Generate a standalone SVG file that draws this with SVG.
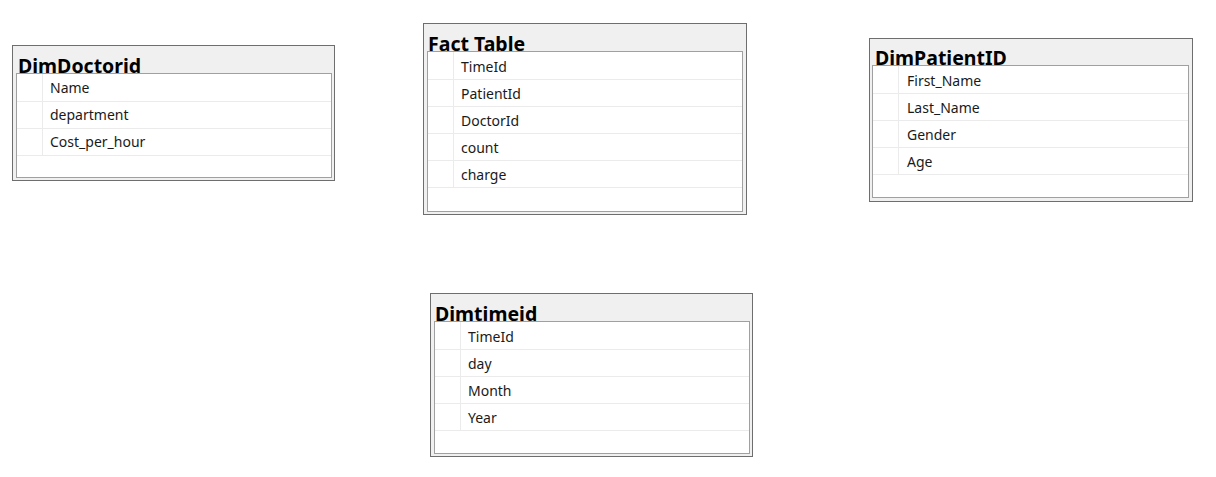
<svg xmlns="http://www.w3.org/2000/svg" width="1216" height="477" viewBox="0 0 1216 477">
<style>
.outer{fill:#f0f0f0;stroke:#6e6e6e;stroke-width:1}
.inner{fill:#ffffff;stroke:#a0a0a0;stroke-width:1}
.row{stroke:#ebebeb;stroke-width:1}
.title{font-family:"Noto Sans","Open Sans",sans-serif;font-weight:bold;font-size:19.5px;fill:#000}
.item{font-family:"Noto Sans","Open Sans",sans-serif;font-size:14px;fill:#1a1a1a}
</style>
<rect width="1216" height="477" fill="#ffffff"/>
<g id="DimDoctorid">
<rect class="outer" x="12.5" y="45.5" width="322" height="135"/>
<text class="title" x="18" y="73">DimDoctorid</text>
<rect class="inner" x="16.5" y="73.5" width="315" height="104"/>
<line class="row" x1="42.5" y1="74" x2="42.5" y2="155"/>
<line class="row" x1="17" y1="101.5" x2="331" y2="101.5"/>
<line class="row" x1="17" y1="128.5" x2="331" y2="128.5"/>
<line class="row" x1="17" y1="155.5" x2="331" y2="155.5"/>
<text class="item" x="50" y="92.5">Name</text>
<text class="item" x="50" y="119.5">department</text>
<text class="item" x="50" y="146.5">Cost_per_hour</text>
</g>
<g id="FactTable">
<rect class="outer" x="423.5" y="23.5" width="323" height="191"/>
<text class="title" x="428" y="51">Fact Table</text>
<rect class="inner" x="427.5" y="51.5" width="315" height="160"/>
<line class="row" x1="453.5" y1="52" x2="453.5" y2="187"/>
<line class="row" x1="428" y1="79.5" x2="742" y2="79.5"/>
<line class="row" x1="428" y1="106.5" x2="742" y2="106.5"/>
<line class="row" x1="428" y1="133.5" x2="742" y2="133.5"/>
<line class="row" x1="428" y1="160.5" x2="742" y2="160.5"/>
<line class="row" x1="428" y1="187.5" x2="742" y2="187.5"/>
<text class="item" x="461" y="71.5">TimeId</text>
<text class="item" x="461" y="98.5">PatientId</text>
<text class="item" x="461" y="125.5">DoctorId</text>
<text class="item" x="461" y="152.5">count</text>
<text class="item" x="461" y="179.5">charge</text>
</g>
<g id="DimPatientID">
<rect class="outer" x="869.5" y="38.5" width="323" height="163"/>
<text class="title" x="875" y="65">DimPatientID</text>
<rect class="inner" x="872.5" y="65.5" width="316" height="132"/>
<line class="row" x1="898.5" y1="66" x2="898.5" y2="174"/>
<line class="row" x1="873" y1="93.5" x2="1188" y2="93.5"/>
<line class="row" x1="873" y1="120.5" x2="1188" y2="120.5"/>
<line class="row" x1="873" y1="147.5" x2="1188" y2="147.5"/>
<line class="row" x1="873" y1="174.5" x2="1188" y2="174.5"/>
<text class="item" x="907" y="85.5">First_Name</text>
<text class="item" x="907" y="112.5">Last_Name</text>
<text class="item" x="907" y="139.5">Gender</text>
<text class="item" x="907" y="166.5">Age</text>
</g>
<g id="Dimtimeid">
<rect class="outer" x="430.5" y="293.5" width="322" height="163"/>
<text class="title" x="435" y="321">Dimtimeid</text>
<rect class="inner" x="434.5" y="321.5" width="315" height="132"/>
<line class="row" x1="460.5" y1="322" x2="460.5" y2="430"/>
<line class="row" x1="435" y1="349.5" x2="749" y2="349.5"/>
<line class="row" x1="435" y1="376.5" x2="749" y2="376.5"/>
<line class="row" x1="435" y1="403.5" x2="749" y2="403.5"/>
<line class="row" x1="435" y1="430.5" x2="749" y2="430.5"/>
<text class="item" x="468" y="341.5">TimeId</text>
<text class="item" x="468" y="368.5">day</text>
<text class="item" x="468" y="395.5">Month</text>
<text class="item" x="468" y="422.5">Year</text>
</g>
<g id="connectors"/>
</svg>
